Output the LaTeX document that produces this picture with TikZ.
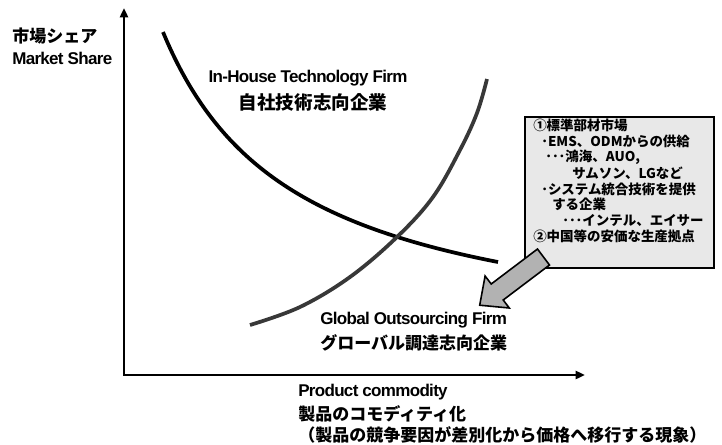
\documentclass[tikz,border=0pt]{standalone}
\usepackage{fontspec}
\setmainfont{Liberation Sans}[LetterSpace=-4]
\newfontfamily\jp{Noto Sans CJK JP}
\usetikzlibrary{arrows.meta}
\begin{document}
\begin{tikzpicture}[x=0.75pt,y=-0.75pt,
  lat/.style={font=\bfseries\fontsize{12.75pt}{15pt}\selectfont, inner sep=0pt},
  jpl/.style={font=\jp\bfseries\fontsize{12.75pt}{15pt}\selectfont, inner sep=0pt},
  jpbig/.style={font=\jp\bfseries\fontsize{13.9pt}{15pt}\selectfont, inner sep=0pt},
  boxtxt/.style={font=\jp\bfseries\fontsize{10.1pt}{12pt}\selectfont, inner sep=0pt, anchor=west},
  axis/.style={line width=1.8pt, {Triangle[length=7pt,width=6pt]}-{Triangle[length=7pt,width=6pt]}},
  curve/.style={line width=2.8pt},
  notebox/.style={draw=black, line width=1.6pt, fill=black!9, minimum width=141.75pt, minimum height=113.25pt, inner sep=0pt},
  blockarrow/.style={draw=black, line width=1.2pt, fill=black!30, line join=miter}
]
\useasboundingbox (0,0) rectangle (722,444);

% axes
\coordinate (ytop) at (124,8);
\coordinate (O) at (124,375);
\coordinate (xend) at (585,375);
\draw[axis] (ytop) -- (O) -- (xend);

% curves
\draw[curve] plot[domain=163:498, samples=80, smooth] (\x,{353.3-427.27/((\x-30)/100)});
\draw[curve, black!78] plot[smooth, tension=0.6] coordinates {(250,325) (300,307) (350,277) (397,237) (433,197) (460,150) (477,113) (487,79)};

% labels
\node[jpl, anchor=west] (ylabjp) at (12,36) {市場シェア};
\node[lat, anchor=west] (ylaben) at (12,58) {Market Share};

\node[lat] (inen) at (308,78) {In-House Technology Firm};
\node[jpbig] (injp) at (313,102) {自社技術志向企業};

\node[lat, anchor=west] (glen) at (320,320) {Global Outsourcing Firm};
\node[jpl, anchor=west] (gljp) at (320,343) {グローバル調達志向企業};

\node[lat, anchor=west] (xlaben) at (298,392) {Product commodity};
\node[jpl, anchor=west] (xlabjp) at (298,414) {製品のコモディティ化};
\node[jpl, anchor=west] (xlabjp2) at (298,435) {（製品の競争要因が差別化から価格へ移行する現象）};

% note box
\node[notebox] (box) at (619.5,192.5) {};
\node[boxtxt] (b1) at (533,125) {①標準部材市場};
\node[boxtxt] (b2) at (541,141) {･EMS、ODMからの供給};
\node[boxtxt] (b3) at (545,157) {･･･鴻海、AUO,};
\node[boxtxt] (b4) at (572,173) {サムソン、LGなど};
\node[boxtxt] (b5) at (541,189) {･システム統合技術を提供};
\node[boxtxt] (b6) at (552,204) {する企業};
\node[boxtxt] (b7) at (562,220) {･･･インテル、エイサー};
\node[boxtxt] (b8) at (533,236) {②中国等の安価な生産拠点};

% block arrow from box towards global firm label
\draw[blockarrow] (549.5,265) -- (537.5,249) -- (491.2,284) -- (485.1,276) -- (479.7,305.2) -- (509.3,308) -- (503.2,300) -- cycle;
\end{tikzpicture}
\end{document}
